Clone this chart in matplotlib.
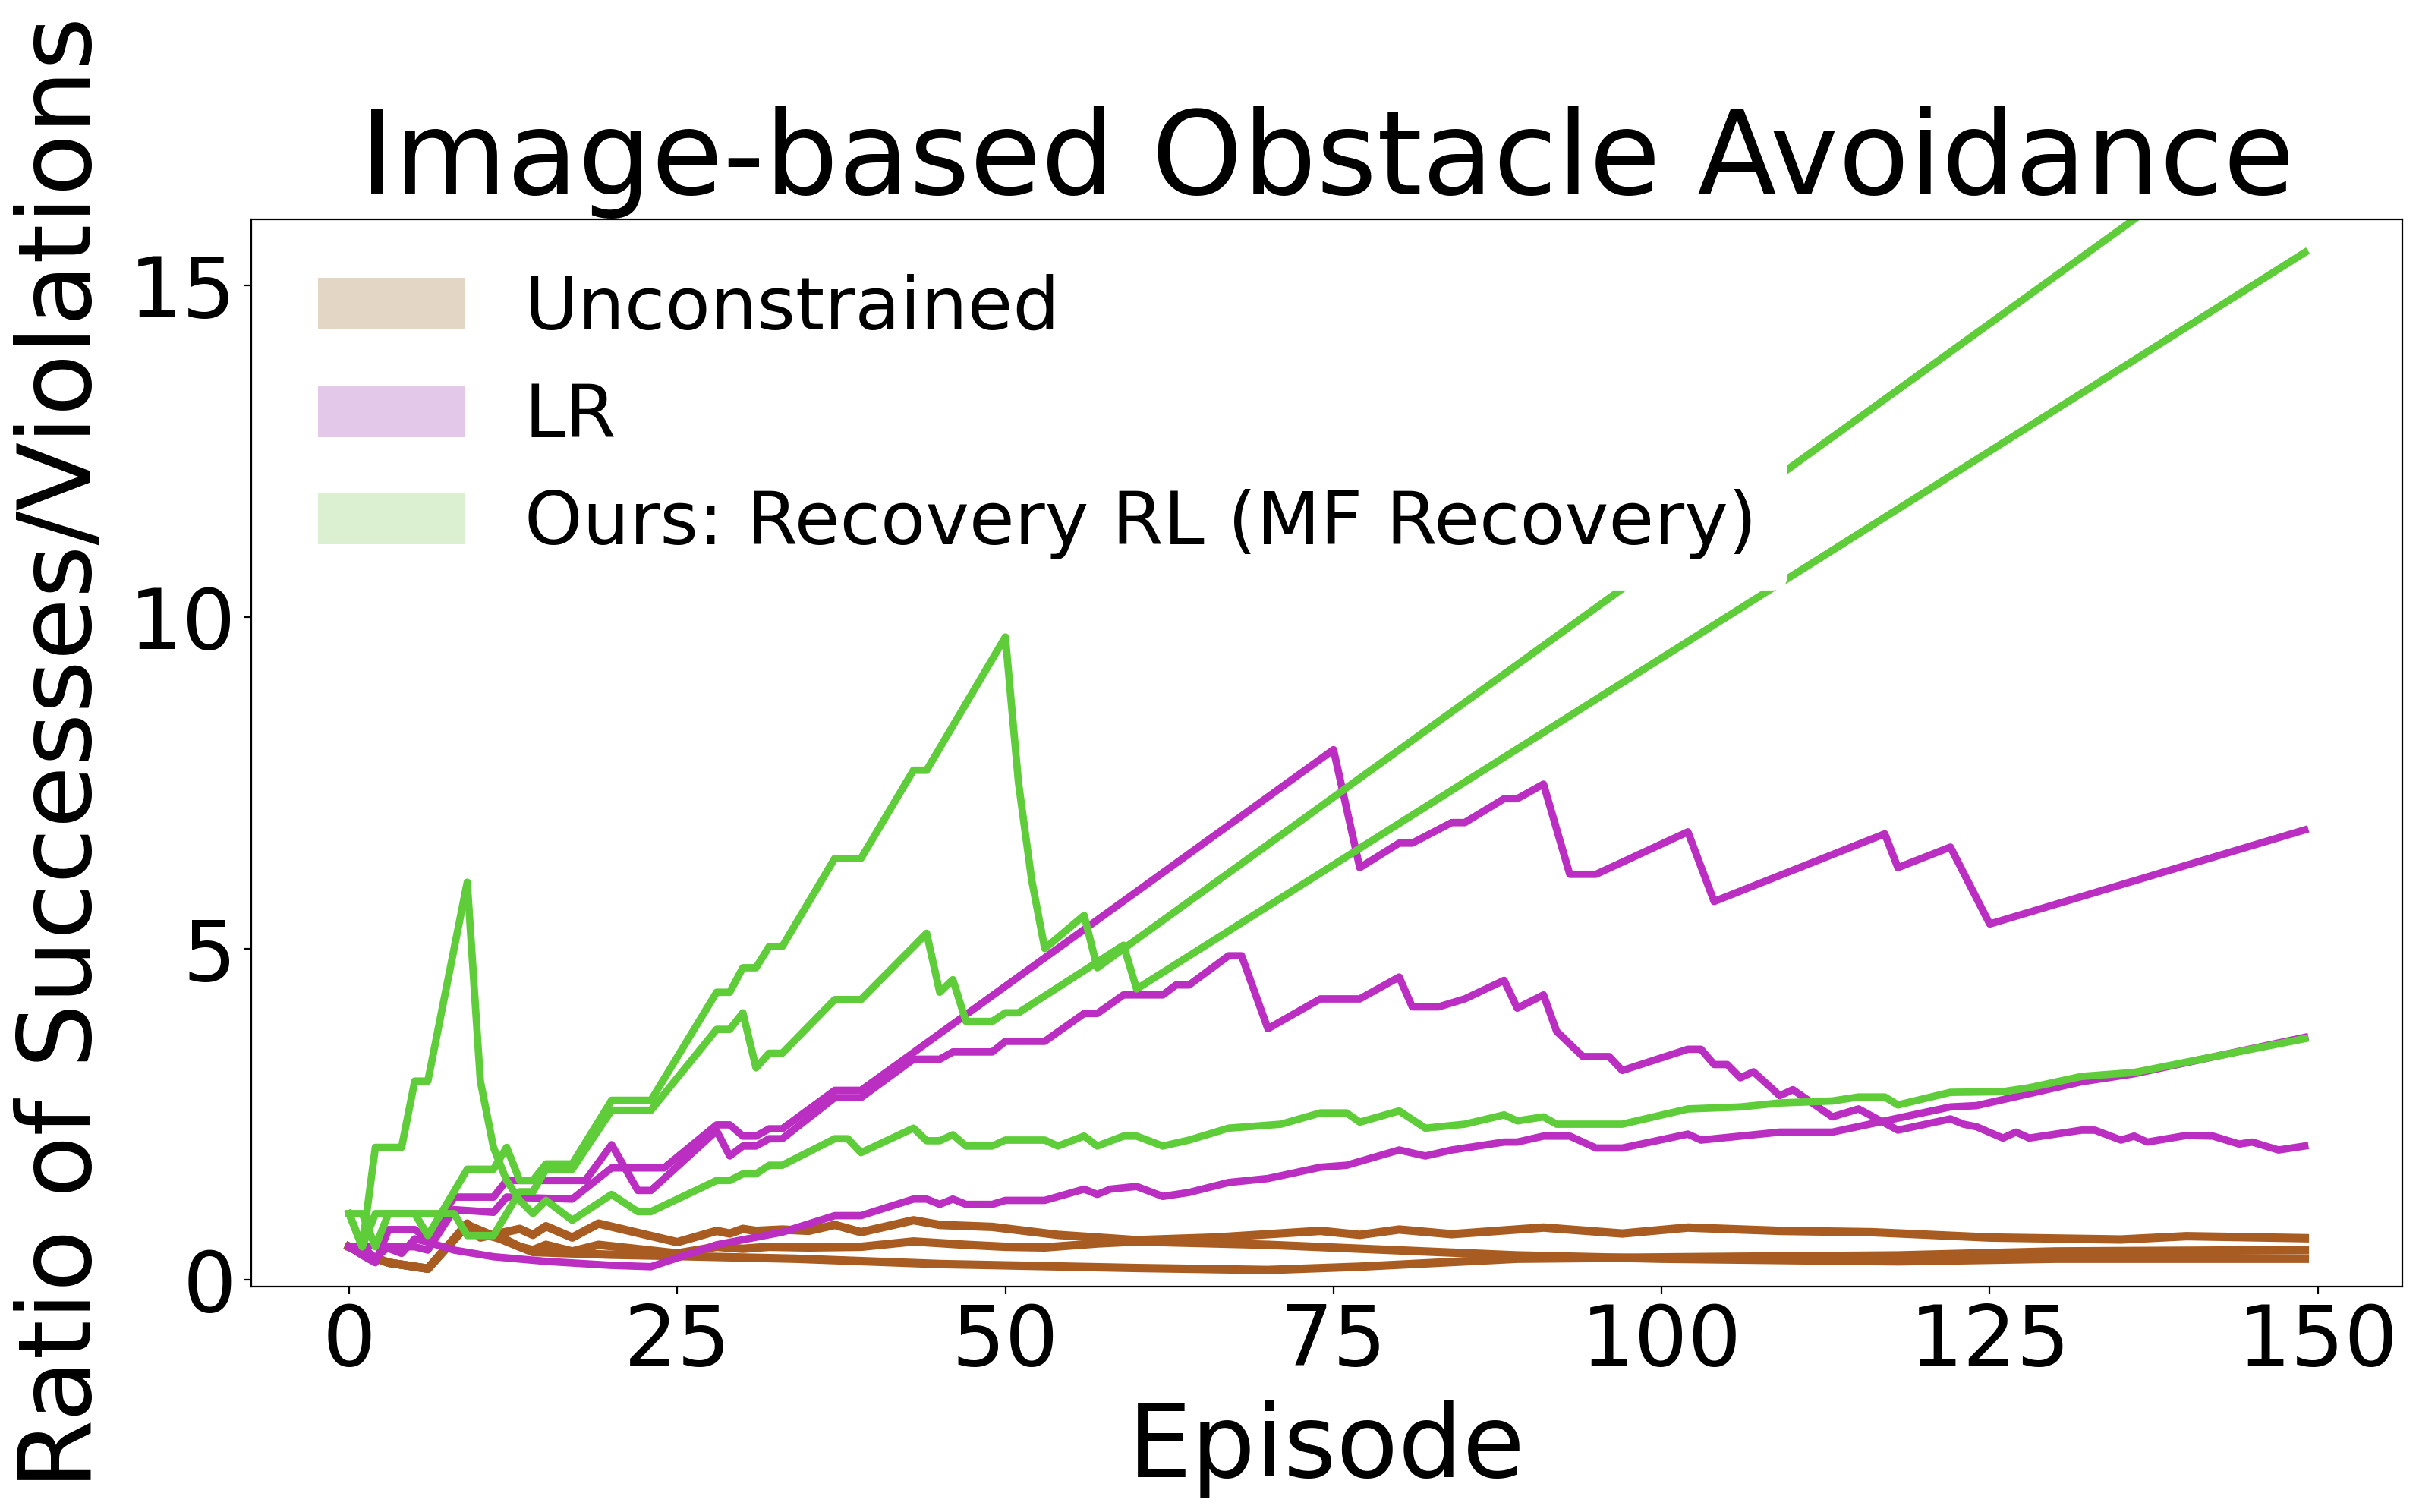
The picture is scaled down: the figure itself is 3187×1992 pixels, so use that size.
import matplotlib
matplotlib.use("Agg")
import matplotlib.pyplot as plt
from matplotlib.patches import Patch

# ---------------- data (episode, ratio) vertices ----------------
# Unconstrained runs
unc_a_ep = [0, 1, 3, 6, 9, 10, 13, 14, 15, 17,
            19, 25, 28, 29, 30, 31, 33, 35, 37, 39,
            43, 45, 49, 54, 60, 66, 74, 77, 80, 84,
            91, 97, 102, 109, 116, 125, 135, 140, 149]
unc_a_val = [0.5, 0.4, 0.26, 0.17, 0.85, 0.64, 0.77, 0.68, 0.81, 0.64,
             0.85, 0.57, 0.74, 0.7, 0.77, 0.74, 0.76, 0.74, 0.83, 0.72,
             0.9, 0.83, 0.8, 0.68, 0.6, 0.64, 0.74, 0.68, 0.76, 0.69,
             0.79, 0.7, 0.79, 0.74, 0.72, 0.64, 0.61, 0.66, 0.63]

unc_b_ep = [0, 1, 3, 6, 9, 10, 12, 13, 14, 15,
            17, 19, 25, 28, 30, 32, 35, 39, 43, 47,
            50, 53, 57, 60, 70, 89, 100, 118, 130, 149]
unc_b_val = [0.5, 0.4, 0.26, 0.17, 0.83, 0.7, 0.6, 0.5, 0.45, 0.53,
             0.43, 0.53, 0.4, 0.5, 0.47, 0.5, 0.49, 0.5, 0.58, 0.53,
             0.5, 0.49, 0.55, 0.58, 0.53, 0.37, 0.32, 0.28, 0.32, 0.32]

unc_c_ep = [0, 1, 3, 6, 9, 12, 14, 17, 20, 25,
            34, 45, 60, 70, 77, 89, 100, 118, 130, 149]
unc_c_val = [0.5, 0.4, 0.26, 0.17, 0.83, 0.58, 0.42, 0.4, 0.38, 0.36,
             0.32, 0.24, 0.18, 0.15, 0.2, 0.32, 0.34, 0.37, 0.43, 0.45]

# LR runs
lr_a_ep = [0, 1, 2, 3, 5, 6, 8, 11, 12, 18,
           20, 22, 23, 28, 29, 30, 31, 32, 33, 37,
           39, 43, 45, 46, 49, 50, 53, 56, 57, 59,
           62, 63, 64, 67, 68, 70, 74, 77, 80, 81,
           83, 85, 88, 89, 91, 92, 94, 96, 97, 102,
           103, 104, 105, 106, 107, 109, 110, 113, 115, 118,
           122, 123, 124, 126, 127, 128, 132, 133, 135, 136,
           137, 140, 142, 144, 145, 147, 149]
lr_a_val = [0.5, 0.37, 0.26, 0.76, 0.76, 0.62, 1.25, 1.25, 1.5, 1.5,
            2.04, 1.35, 1.35, 2.25, 1.87, 2.02, 2.02, 2.13, 2.13, 2.75,
            2.75, 3.33, 3.33, 3.44, 3.44, 3.6, 3.6, 4.02, 4.02, 4.3,
            4.3, 4.45, 4.45, 4.89, 4.89, 3.79, 4.24, 4.24, 4.57, 4.12,
            4.12, 4.24, 4.52, 4.1, 4.3, 3.75, 3.37, 3.37, 3.16, 3.48,
            3.48, 3.25, 3.25, 3.05, 3.14, 2.78, 2.87, 2.46, 2.58, 2.26,
            2.43, 2.35, 2.31, 2.14, 2.23, 2.14, 2.26, 2.26, 2.11, 2.17,
            2.08, 2.18, 2.17, 2.05, 2.08, 1.96, 2.02]

lr_b_ep = [0, 1, 2, 3, 5, 6, 8, 11, 12, 17,
           20, 24, 28, 29, 30, 31, 32, 33, 37, 39,
           75, 77, 80, 81, 84, 85, 88, 89, 91, 93,
           95, 102, 104, 117, 118, 122, 125, 149]
lr_b_val = [0.5, 0.5, 0.33, 0.5, 0.5, 0.45, 1.06, 1.02, 1.25, 1.22,
            1.69, 1.69, 2.34, 2.34, 2.17, 2.17, 2.28, 2.28, 2.86, 2.86,
            8.0, 6.22, 6.59, 6.59, 6.9, 6.9, 7.26, 7.26, 7.48, 6.12,
            6.12, 6.76, 5.71, 6.73, 6.22, 6.53, 5.37, 6.79]

lr_c_ep = [0, 1, 2, 4, 5, 6, 8, 11, 15, 20,
           23, 28, 33, 37, 39, 43, 44, 45, 46, 47,
           49, 50, 53, 56, 57, 58, 60, 62, 64, 67,
           70, 74, 76, 80, 82, 84, 88, 89, 91, 93,
           95, 97, 102, 103, 106, 109, 113, 122, 124, 132,
           136, 149]
lr_c_val = [0.5, 0.45, 0.55, 0.4, 0.62, 0.57, 0.45, 0.35, 0.28, 0.22,
            0.2, 0.53, 0.72, 0.97, 0.97, 1.22, 1.22, 1.14, 1.22, 1.14,
            1.14, 1.2, 1.2, 1.37, 1.29, 1.37, 1.41, 1.26, 1.32, 1.47,
            1.53, 1.7, 1.73, 1.96, 1.87, 1.96, 2.08, 2.08, 2.17, 2.17,
            1.99, 1.99, 2.2, 2.11, 2.17, 2.23, 2.23, 2.61, 2.63, 2.99,
            3.11, 3.66]

# Ours: Recovery RL runs
ours_a_ep = [0, 1, 2, 4, 5, 6, 9, 10, 11, 12,
             13, 14, 15, 17, 20, 22, 23, 28, 29, 30,
             31, 32, 33, 37, 38, 39, 43, 44, 45, 46,
             47, 49, 50, 53, 54, 56, 57, 59, 60, 62,
             64, 67, 71, 74, 76, 77, 80, 82, 85, 88,
             89, 91, 92, 97, 102, 106, 109, 113, 115, 117,
             118, 122, 126, 128, 132, 136, 149]
ours_a_val = [1.0, 0.5, 2.0, 2.0, 3.0, 3.0, 6.0, 3.0, 2.0, 1.5,
              1.2, 1.0, 1.2, 0.9, 1.29, 1.03, 1.03, 1.5, 1.5, 1.6,
              1.6, 1.73, 1.73, 2.13, 2.13, 1.92, 2.29, 2.1, 2.1, 2.19,
              2.02, 2.02, 2.11, 2.11, 2.02, 2.17, 2.02, 2.17, 2.17, 2.02,
              2.11, 2.29, 2.35, 2.52, 2.52, 2.38, 2.55, 2.29, 2.35, 2.49,
              2.4, 2.46, 2.35, 2.35, 2.58, 2.61, 2.67, 2.7, 2.76, 2.76,
              2.64, 2.83, 2.84, 2.9, 3.07, 3.13, 3.64]

ours_b_ep = [0, 1, 2, 5, 6, 7, 9, 11, 12, 13,
             14, 15, 17, 20, 23, 28, 29, 30, 31, 32,
             33, 37, 39, 43, 44, 50, 51, 52, 53, 56,
             57, 149]
ours_b_val = [1.0, 0.5, 1.0, 1.0, 0.67, 1.0, 1.67, 1.67, 2.0, 1.5,
              1.5, 1.75, 1.75, 2.71, 2.71, 4.34, 4.34, 4.71, 4.71, 5.03,
              5.03, 6.36, 6.36, 7.69, 7.69, 9.7, 7.5, 6.04, 5.0, 5.5,
              4.71, 17.86]

ours_c_ep = [0, 1, 2, 3, 8, 9, 11, 13, 14, 15,
             17, 20, 23, 28, 29, 30, 31, 32, 33, 37,
             39, 44, 45, 46, 47, 49, 50, 51, 59, 60,
             149]
ours_c_val = [1.0, 1.0, 0.5, 1.0, 1.0, 0.67, 0.67, 1.33, 1.33, 1.67,
              1.67, 2.56, 2.56, 3.78, 3.78, 4.03, 3.2, 3.42, 3.42, 4.23,
              4.23, 5.23, 4.34, 4.53, 3.9, 3.9, 4.03, 4.03, 5.05, 4.39,
              15.5]

method_labels = ["Unconstrained", "LR", "Ours: Recovery RL (MF Recovery)"]
x_ticks = [0, 25, 50, 75, 100, 125, 150]
y_ticks = [0, 5, 10, 15]

# ---------------- style ----------------
BROWN = "#A95C21"
PURPLE = "#BB2EC2"
GREEN = "#5FCC39"
LEG_COLORS = ["#E3D6C5", "#E4C8EA", "#DAF0D0"]

fig = plt.figure(figsize=(3187 / 200, 1992 / 200), dpi=200)
ax = fig.add_axes([0.1039, 0.1491, 0.8893, 0.7058])

groups = [
    (BROWN, 4.0, [(unc_a_ep, unc_a_val), (unc_b_ep, unc_b_val), (unc_c_ep, unc_c_val)]),
    (PURPLE, 3.5, [(lr_a_ep, lr_a_val), (lr_b_ep, lr_b_val), (lr_c_ep, lr_c_val)]),
    (GREEN, 3.5, [(ours_a_ep, ours_a_val), (ours_b_ep, ours_b_val), (ours_c_ep, ours_c_val)]),
]
for color, lw, runs in groups:
    for eps, vals in runs:
        ax.plot(eps, vals, color=color, lw=lw)

ax.set_ylim(-0.1, 16)
ax.set_xticks(x_ticks)
ax.set_yticks(y_ticks)
ax.tick_params(axis="both", labelsize=40, length=3.6)

ax.set_title("Image-based Obstacle Avoidance", fontsize=55, pad=12)
ax.set_xlabel("Episode", fontsize=48, labelpad=8)
ax.set_ylabel("Ratio of Successes/Violations", fontsize=48, labelpad=8)

handles = [Patch(facecolor=c, edgecolor="none") for c in LEG_COLORS]
leg = ax.legend(handles, method_labels, loc="upper left", fontsize=35,
                bbox_to_anchor=(0.0, 1.011),
                frameon=True, framealpha=1.0, edgecolor="white")

fig.savefig("out.png", dpi=200)
